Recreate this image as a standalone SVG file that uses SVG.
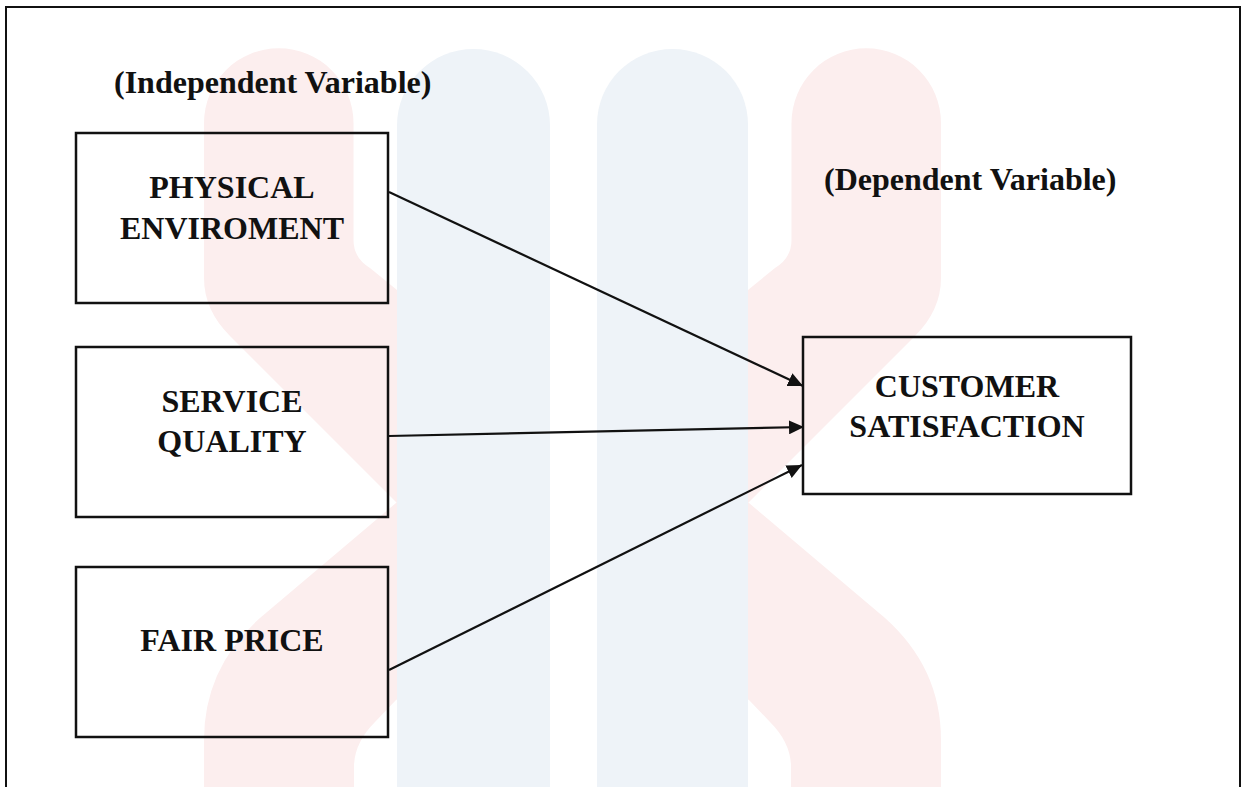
<svg xmlns="http://www.w3.org/2000/svg" width="1244" height="787" viewBox="0 0 1244 787">
  <style>
    .wm-pink { fill: #FCEEEE; stroke: none; }
    .wm-blue { fill: #EEF3F8; stroke: none; }
    .box { fill: none; stroke: #111; stroke-width: 2.5; }
    .lbl { font-family: "Liberation Serif", "Times New Roman", serif; font-weight: bold; font-size: 32px; fill: #111; }
    .mid { text-anchor: middle; }
    .conn { stroke: #111; stroke-width: 2.2; fill: none; marker-end: url(#arrow); }
  </style>
  <defs>
    <marker id="arrow" markerUnits="userSpaceOnUse" markerWidth="16" markerHeight="14" refX="15" refY="7" orient="auto">
      <path d="M0,0 L15,7 L0,14 Z" fill="#111"/>
    </marker>
  </defs>

  <rect x="0" y="0" width="1244" height="787" fill="#ffffff"/>

  <g id="watermark">
    <path class="wm-pink" d="M204 123 A74.75 74.75 0 0 1 353.5 123 L353.5 240 Q353.5 258 370 268 L397 290 L749 503 L885 618 Q941 668 941 740 L941 800 L791 800 L791 765 Q790 742 770 722 L749 700 L397 503 L230 336 Q204 310 204 278 Z"/>
    <path class="wm-pink" d="M941 123 A74.75 74.75 0 0 0 791.5 123 L791.5 240 Q791.5 258 775 268 L748 290 L396 503 L260 618 Q204 668 204 740 L204 800 L354 800 L354 765 Q355 742 375 722 L396 700 L748 503 L915 336 Q941 310 941 278 Z"/>
    <rect x="550" y="0" width="47" height="787" fill="#ffffff"/>
    <path class="wm-blue" d="M397 787 L397 125.5 A76.5 76.5 0 0 1 550 125.5 L550 787 Z"/>
    <path class="wm-blue" d="M597 787 L597 124.5 A75.5 75.5 0 0 1 748 124.5 L748 787 Z"/>
  </g>

  <g id="frame">
    <path d="M6 787 L6 7 L1240 7 L1240 787" fill="none" stroke="#111" stroke-width="2"/>
  </g>

  <g id="title-independent">
    <text class="lbl" x="114" y="93">(Independent Variable)</text>
  </g>
  <g id="title-dependent">
    <text class="lbl" x="824" y="190">(Dependent Variable)</text>
  </g>

  <g id="connectors">
    <line class="conn" x1="389" y1="192" x2="803" y2="386"/>
    <line class="conn" x1="389" y1="436" x2="804" y2="427"/>
    <line class="conn" x1="389" y1="670" x2="802" y2="465"/>
  </g>

  <g id="node-physical">
    <rect class="box" x="76" y="133" width="312" height="170"/>
    <text class="lbl mid" x="232" y="198">PHYSICAL</text>
    <text class="lbl mid" x="232" y="239">ENVIROMENT</text>
  </g>
  <g id="node-service">
    <rect class="box" x="76" y="347" width="312" height="170"/>
    <text class="lbl mid" x="232" y="412">SERVICE</text>
    <text class="lbl mid" x="232" y="452">QUALITY</text>
  </g>
  <g id="node-price">
    <rect class="box" x="76" y="567" width="312" height="170"/>
    <text class="lbl mid" x="232" y="651">FAIR PRICE</text>
  </g>
  <g id="node-customer">
    <rect class="box" x="803" y="337" width="328" height="157"/>
    <text class="lbl mid" x="967" y="397">CUSTOMER</text>
    <text class="lbl mid" x="967" y="437">SATISFACTION</text>
  </g>
</svg>
